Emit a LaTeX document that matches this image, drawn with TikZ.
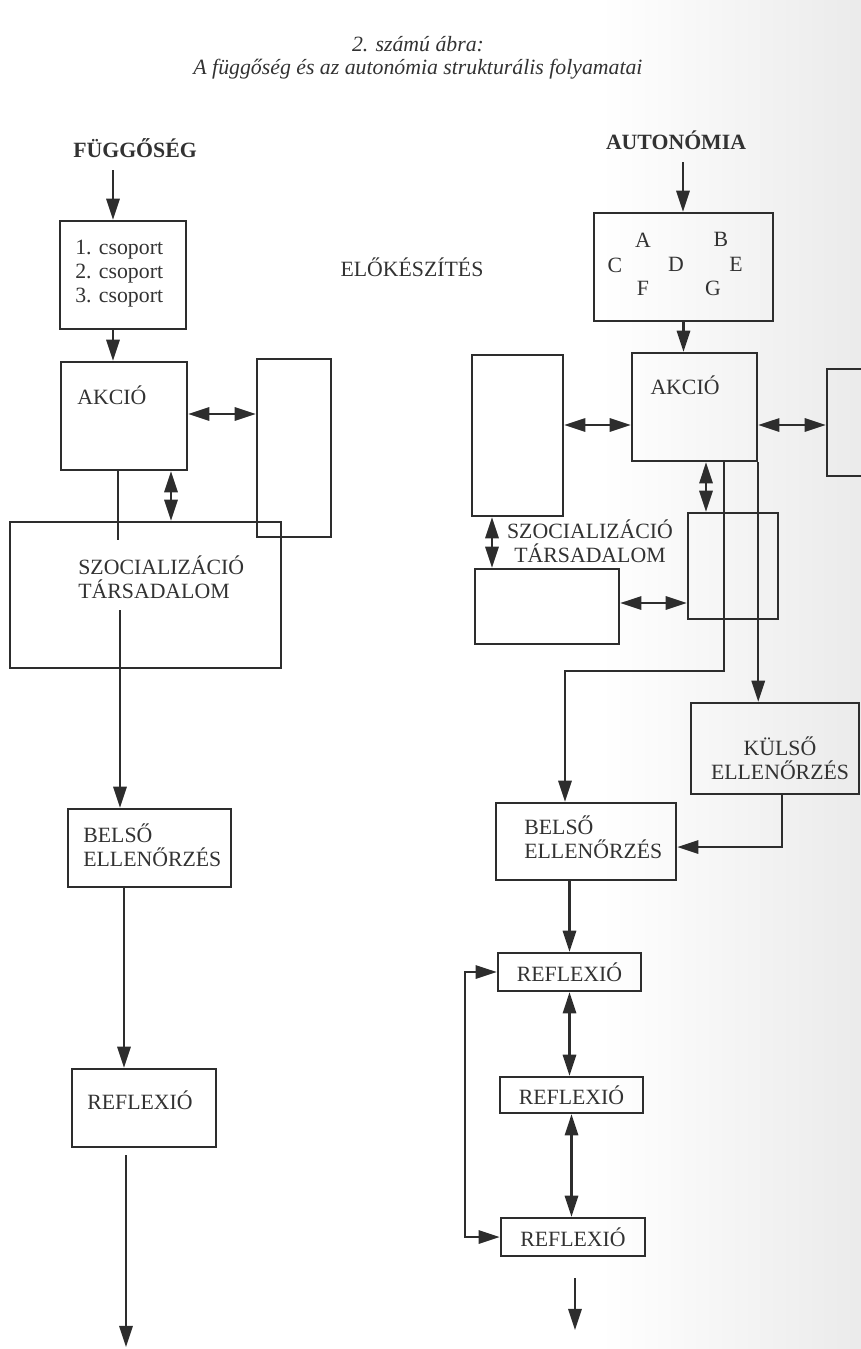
\documentclass[tikz,border=0pt]{standalone}
\usepackage{fontspec}
\setmainfont{Liberation Serif}
\usetikzlibrary{arrows.meta, calc}
\definecolor{Vonal}{RGB}{45,45,45}
\definecolor{Betu}{RGB}{50,50,50}

\begin{document}
\begin{tikzpicture}[x=0.02cm, y=-0.02cm,
  font=\fontsize{12.4}{13.6}\selectfont,
  keret/.style={draw=Vonal, line width=1.4pt, rectangle, inner sep=0pt, text=Betu},
  felirat/.style={text=Betu, inner sep=0pt, align=left},
  cimsor/.style={text=Betu, inner sep=0pt, font=\fontsize{12.4}{13.6}\selectfont\bfseries},
  nyil/.style={draw=Vonal, line width=1.4pt, -{Triangle[length=12pt,width=7.5pt]}},
  kettos/.style={draw=Vonal, line width=1.4pt,
    {Triangle[length=12pt,width=7.5pt]}-{Triangle[length=12pt,width=7.5pt]}},
  vonal/.style={draw=Vonal, line width=1.4pt}]

\useasboundingbox (0,0) rectangle (861,1349);
\clip (0,0) rectangle (861,1349);

% Page shadow on the right
\shade[left color=white, right color=black!8] (600,0) rectangle (861,1349);

% Helper macro: box from its corners in pixels
% #1=name, #2,#3=upper left, #4,#5=lower right, #6=text
\newcommand{\doboz}[6]{%
  \pgfmathsetmacro\bszel{(#4-#2)*0.02}%
  \pgfmathsetmacro\bmag{(#5-#3)*0.02}%
  \node[keret, minimum width=\bszel cm, minimum height=\bmag cm]
    (#1) at ({(#2+#4)/2},{(#3+#5)/2}) {#6};%
}

% Title
\node[felirat, align=center, font=\fontsize{12.4}{13.2}\selectfont\itshape]
  (cim) at (418,58) {2. számú ábra:\\A függőség és az autonómia strukturális folyamatai};

% Left column: dependence
\node[cimsor] (fugg) at (135,148) {FÜGGŐSÉG};
\coordinate (fugg-ki) at (113,170);
\doboz{csop}{60}{221}{186}{329}{}
\node[felirat, anchor=west] (csop-szov) at (75,274) {1. csoport\\2. csoport\\3. csoport};
\draw[nyil] (fugg-ki) -- (fugg-ki |- csop.north);

\doboz{akcioL}{61}{362}{187}{470}{}
\node[felirat, anchor=west] (akcioL-cim) at (77,395) {AKCIÓ};
\draw[nyil] (csop.south -| fugg-ki) -- (akcioL.north -| fugg-ki);

\doboz{magasL}{257}{359}{331}{537}{}
\coordinate (sL) at (0,414);
\draw[kettos] (akcioL.east |- sL) -- (magasL.west |- sL);

\doboz{szocL}{10}{522}{281}{668}{}
\node[felirat, anchor=west] (szocL-cim) at (78,577) {SZOCIALIZÁCIÓ\\TÁRSADALOM};
\coordinate (kL) at (171,0);
\draw[kettos] (akcioL.south -| kL) -- (szocL.north -| kL);

% line from the action into the socialisation box
\coordinate (vL) at (118,540);
\draw[vonal] (akcioL.south -| vL) -- (vL);
\coordinate (vL2) at (120,610);

\doboz{belsoL}{68}{809}{231}{887}{}
\node[felirat, anchor=west] (belsoL-cim) at (83,845) {BELSŐ\\ELLENŐRZÉS};
\draw[nyil] (vL2) -- (vL2 |- belsoL.north);

\doboz{reflL}{72}{1069}{216}{1147}{}
\node[felirat, anchor=west] (reflL-cim) at (87,1100) {REFLEXIÓ};
\coordinate (vL3) at (124,0);
\draw[nyil] (belsoL.south -| vL3) -- (reflL.north -| vL3);

\coordinate (vegL-ki) at (126,1155);
\coordinate (vegL) at (126,1347);
\draw[nyil] (vegL-ki) -- (vegL);

% Middle
\node[felirat] (elo) at (412,267) {ELŐKÉSZÍTÉS};

% Right column: autonomy
\node[cimsor] (auto) at (676,140) {AUTONÓMIA};
\coordinate (auto-ki) at (683,162);
\doboz{abc}{594}{213}{773}{321}{}
\draw[nyil] (auto-ki) -- (auto-ki |- abc.north);
\foreach \b/\x/\y in {A/643/240, B/721/239, C/615/265, D/676/264,
                      E/736/264, F/643/288, G/713/288}
  \node[felirat] (betu-\b) at (\x,\y) {\b};

\doboz{akcioR}{632}{353}{757}{461}{}
\node[felirat] (akcioR-cim) at (685,385) {AKCIÓ};
\draw[nyil] (abc.south) -- (abc.south |- akcioR.north);

\doboz{magasR}{472}{355}{563}{516}{}
\doboz{jobbR}{827}{369}{880}{476}{}
\coordinate (sR1) at (0,425);
\draw[kettos] (magasR.east |- sR1) -- (akcioR.west |- sR1);
\draw[kettos] (akcioR.east |- sR1) -- (jobbR.west |- sR1);

\doboz{kozepR}{688}{513}{778}{619}{}
\coordinate (kR) at (706,0);
\draw[kettos] (akcioR.south -| kR) -- (kozepR.north -| kR);

\node[felirat, align=center] (szocR) at (590,541) {SZOCIALIZÁCIÓ\\TÁRSADALOM};
\doboz{alsoR}{475}{569}{619}{644}{}
\coordinate (kR2) at (492,0);
\draw[kettos] (magasR.south -| kR2) -- (alsoR.north -| kR2);
\coordinate (sR2) at (0,603);
\draw[kettos] (alsoR.east |- sR2) -- (kozepR.west |- sR2);

\doboz{kulso}{691}{703}{859}{794}{}
\node[felirat, align=center] (kulso-cim) at (780,758) {KÜLSŐ\\ELLENŐRZÉS};
\draw[nyil] (akcioR.south east) -- (akcioR.south east |- kulso.north);

\doboz{belsoR}{496}{803}{676}{880}{}
\node[felirat, anchor=west] (belsoR-cim) at (524,837) {BELSŐ\\ELLENŐRZÉS};
\coordinate (tR) at (724,671);
\coordinate (tR2) at (565,671);
\draw[nyil] (akcioR.south -| tR) -- (tR) -- (tR2) -- (tR2 |- belsoR.north);
\coordinate (kulso-ki) at (782,0);
\coordinate (sR3) at (0,847);
\draw[nyil] (kulso.south -| kulso-ki) |- (belsoR.east |- sR3);

% Reflection loop
\doboz{refl1}{498}{953}{641}{991}{REFLEXIÓ}
\doboz{refl2}{500}{1077}{643}{1113}{REFLEXIÓ}
\doboz{refl3}{501}{1218}{645}{1256}{REFLEXIÓ}
\draw[nyil] (belsoR.south -| refl1.north) -- (refl1.north);
\draw[kettos] (refl1.south) -- (refl1.south |- refl2.north);
\draw[kettos] (refl2.south) -- (refl2.south |- refl3.north);
\coordinate (vissza) at (465,0);
\draw[kettos] (refl3.west) -- (refl3.west -| vissza) |- (refl1.west);
\coordinate (vegR-ki) at (575,1278);
\coordinate (vegR) at (575,1330);
\draw[nyil] (vegR-ki) -- (vegR);

\end{tikzpicture}
\end{document}
